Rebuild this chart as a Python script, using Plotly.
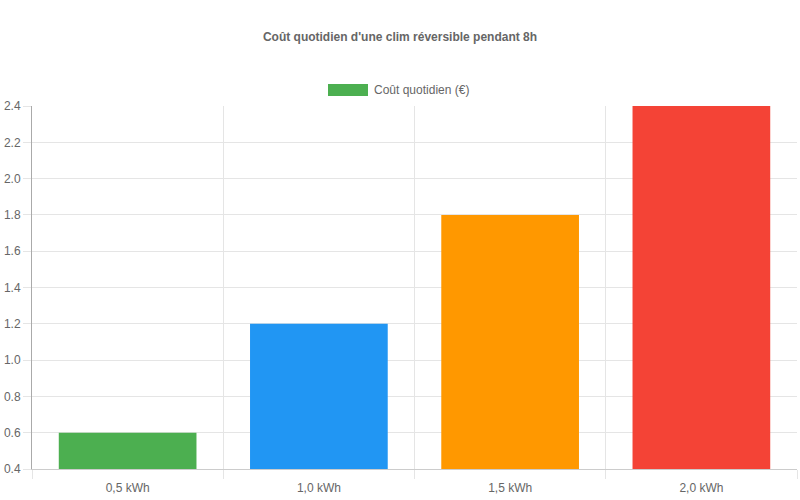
import plotly.graph_objects as go

# data
categories = ["0,5 kWh", "1,0 kWh", "1,5 kWh", "2,0 kWh"]
daily_cost = [0.6, 1.2, 1.8, 2.4]
bar_colors = ["#4CAF50", "#2196F3", "#FF9800", "#F44336"]
y_ticks = [0.4, 0.6, 0.8, 1.0, 1.2, 1.4, 1.6, 1.8, 2.0, 2.2, 2.4]
series_name = "Coût quotidien (€)"

W, H = 800, 500
L, R, T, B = 32, 3, 106, 31
pw, ph = W - L - R, H - T - B

fig = go.Figure()

fig.add_trace(go.Bar(x=categories, y=daily_cost, base=0,
                     marker_color=bar_colors, marker_line_width=0,
                     name=series_name, showlegend=False))

# chart.js style legend: wide swatch + label
fig.add_shape(type="rect", xref="paper", yref="paper",
              x0=(328 - L) / pw, x1=(368 - L) / pw,
              y0=1 + (T - 96) / ph, y1=1 + (T - 84) / ph,
              fillcolor=bar_colors[0], line=dict(width=0))
fig.add_annotation(text=series_name, xref="paper", yref="paper",
                   x=(372 - L) / pw, xanchor="left",
                   y=1 + (T - 90) / ph, yanchor="middle",
                   showarrow=False, font=dict(size=12, color="#666"))

fig.update_layout(
    width=W, height=H,
    margin=dict(l=L, r=R, t=T, b=B),
    paper_bgcolor="white", plot_bgcolor="white",
    font=dict(family="Liberation Sans, Arial, sans-serif", size=12, color="#666"),
    title=dict(text="<b>Coût quotidien d'une clim réversible pendant 8h</b>",
               x=0.5, xanchor="center", y=1 - 37 / H, yanchor="middle",
               font=dict(size=12, color="#666")),
    showlegend=False,
    bargap=0.28,
)

fig.update_xaxes(showgrid=True, gridcolor="#e5e5e5", tickson="boundaries",
                 ticks="outside", ticklen=9, tickcolor="#e5e5e5",
                 ticklabelstandoff=8, automargin=False,
                 showline=True, linecolor="#ccc", mirror=False)
fig.update_yaxes(range=[0.4, 2.4], tickvals=y_ticks, tickformat=".1f",
                 showgrid=True, gridcolor="#e5e5e5",
                 ticks="outside", ticklen=8, tickcolor="#e5e5e5",
                 automargin=False,
                 showline=True, linecolor="#aaa", zeroline=False)

# drop the default 8px body margin so the figure fills the window
fig.write_html("out.html", config={"displayModeBar": False},
               post_script="document.body.style.margin = '0';")
